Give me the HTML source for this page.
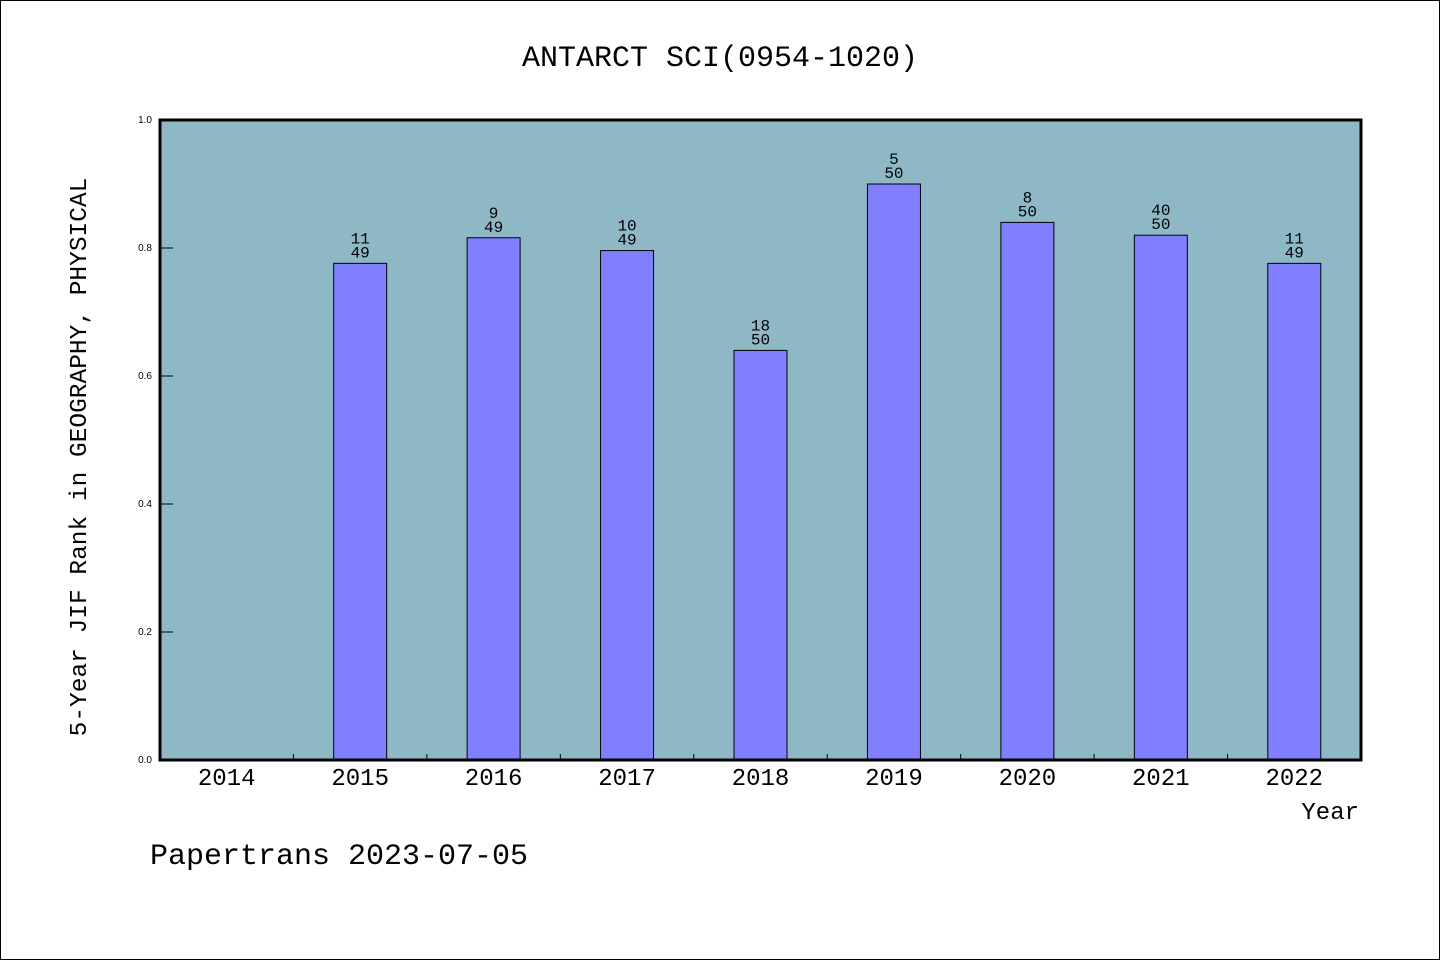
<!DOCTYPE html>
<html><head><meta charset="utf-8"><style>
body{margin:0;background:#fff}
svg{display:block;font-family:"Liberation Mono","DejaVu Sans Mono",monospace}
</style></head><body>
<svg id="c" width="1440" height="960" xmlns="http://www.w3.org/2000/svg">
<rect x="0.5" y="0.5" width="1439" height="959" fill="#fff" stroke="#000"/>
<text x="720" y="66" font-size="30" text-anchor="middle">ANTARCT SCI(0954-1020)</text>
<rect x="160" y="120" width="1201" height="640" fill="#8fb8c7"/>
<g id="marks"></g>
<rect x="160" y="120" width="1201" height="640" fill="none" stroke="#000" stroke-width="3"/>
<text transform="translate(86,457) rotate(-90)" font-size="24.5" text-anchor="middle">5-Year JIF Rank in GEOGRAPHY, PHYSICAL</text>
<text x="1359" y="819" font-size="24" text-anchor="end">Year</text>
<text x="150" y="864" font-size="30">Papertrans 2023-07-05</text>
</svg>
<script>
const years=["2014","2015","2016","2017","2018","2019","2020","2021","2022"];
const values=[null,0.776,0.816,0.796,0.64,0.9,0.84,0.82,0.776];
const ranks=[null,11,9,10,18,5,8,40,11];
const totals=[null,49,49,49,50,50,50,50,49];
const yTicks=[0,0.2,0.4,0.6,0.8,1.0];
const X0=160,X1=1361,Y0=760,Y1=120;
const bw=(X1-X0)/years.length;
const xs=i=>X0+bw*(i+0.5);
const ys=v=>Y0-(Y0-Y1)*v;
const NS="http://www.w3.org/2000/svg";
const g=document.getElementById('marks');
function mk(t,a,txt){const e=document.createElementNS(NS,t);for(const k in a)e.setAttribute(k,a[k]);if(txt!=null)e.textContent=txt;g.appendChild(e);return e;}
yTicks.forEach(v=>{
  const l=mk('line',{x1:X0,x2:X0+13,y1:ys(v),y2:ys(v),stroke:'#000'});
  
  
  const t=mk('text',{x:X0-8,y:ys(v)+3,'font-size':10,'text-anchor':'end','font-family':'Liberation Sans, sans-serif'},v.toFixed(1));
  
  
});
years.forEach((y,i)=>{
  if(i>0){const l=mk('line',{x1:X0+bw*i,x2:X0+bw*i,y1:Y0,y2:Y0-6,stroke:'#000'});
  
  }
  const t=mk('text',{x:xs(i),y:785,'font-size':24,'text-anchor':'middle'},y);
  
  
  if(values[i]==null)return;
  const top=ys(values[i]);
  const r=mk('rect',{x:xs(i)-26.5,y:top,width:53,height:Y0-top,fill:'#8080ff',stroke:'#000','stroke-width':1});
  
  
  const a=mk('text',{x:xs(i),y:top-20,'font-size':16,'text-anchor':'middle'},String(ranks[i]));
  
  
  const b=mk('text',{x:xs(i),y:top-6,'font-size':16,'text-anchor':'middle'},String(totals[i]));
  
  
});
</script>
</body></html>
